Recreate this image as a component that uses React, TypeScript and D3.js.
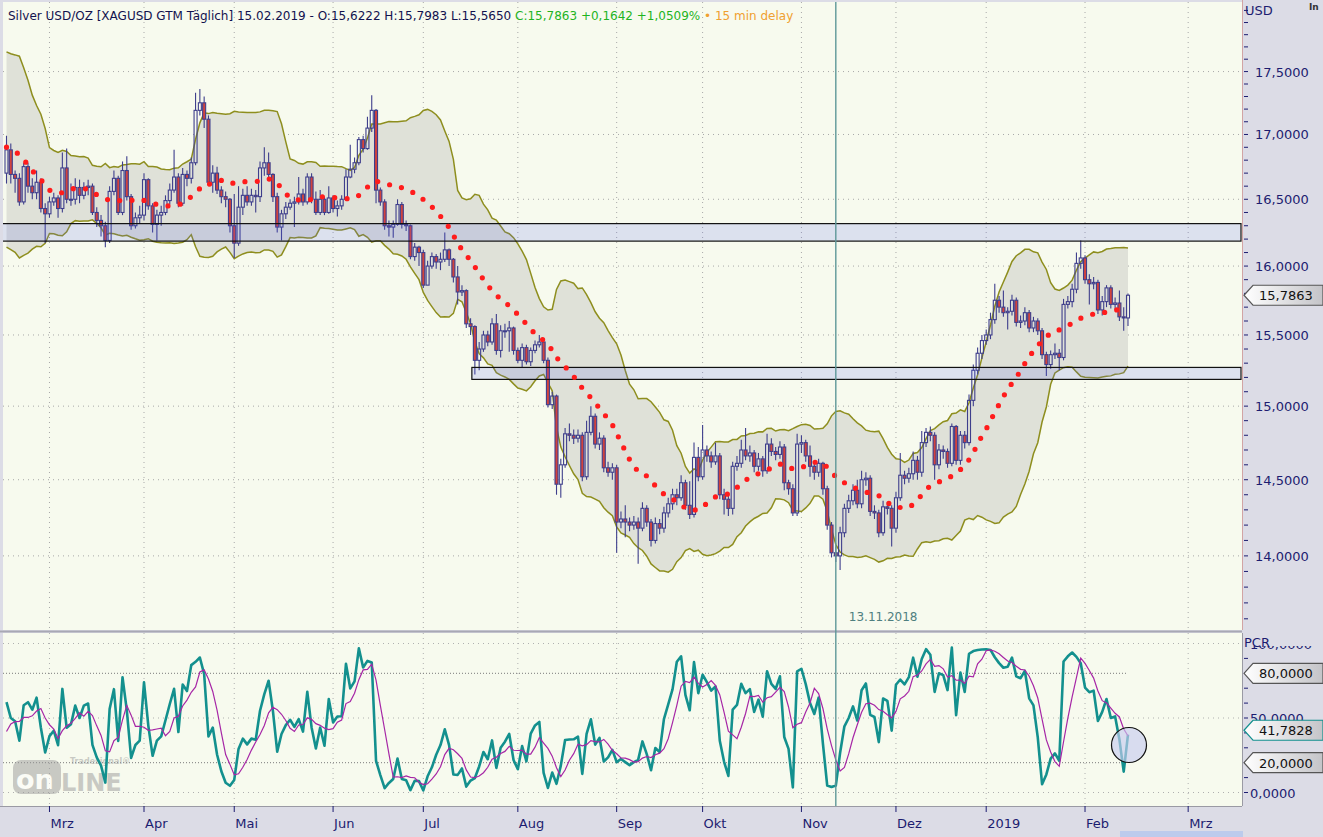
import React from 'react';
import * as d3 from 'd3';

// a few sessions before the visible window, only used to warm up the indicators
const warmClose = [17.05, 17.05, 16.95, 17.0, 17.48, 17.45, 17.45, 17.25, 17.15, 17.25, 17.25, 16.75, 16.7, 16.6, 16.3, 16.2, 16.4, 16.65, 16.55, 16.7];
const warmHigh = [17.15, 17.12, 17.08, 17.1, 17.55, 17.62, 17.55, 17.45, 17.3, 17.35, 17.38, 17.28, 16.9, 16.8, 16.65, 16.4, 16.5, 16.72, 16.7, 16.78];
const warmLow = [16.95, 16.95, 16.88, 16.9, 17.0, 17.35, 17.35, 17.18, 17.05, 17.1, 17.15, 16.7, 16.6, 16.45, 16.25, 16.0, 16.18, 16.4, 16.48, 16.52];

// daily XAGUSD, 15.02.2018 - 15.02.2019 (weekdays)
const closes = [
  16.88, 16.69, 16.66, 16.48, 16.75, 16.6, 16.55, 16.63, 16.43, 16.39,
  16.48, 16.51, 16.43, 16.74, 16.5, 16.5, 16.59, 16.53, 16.59, 16.6,
  16.4, 16.34, 16.3, 16.19, 16.56, 16.66, 16.4, 16.72, 16.52, 16.3,
  16.36, 16.38, 16.65, 16.45, 16.31, 16.38, 16.4, 16.49, 16.57, 16.67,
  16.47, 16.69, 16.66, 16.78, 17.19, 17.25, 17.12, 16.63, 16.7, 16.57,
  16.52, 16.5, 16.3, 16.17, 16.44, 16.53, 16.48, 16.53, 16.52, 16.74,
  16.78, 16.69, 16.52, 16.29, 16.39, 16.44, 16.47, 16.48, 16.54, 16.48,
  16.67, 16.5, 16.4, 16.5, 16.4, 16.51, 16.43, 16.45, 16.5, 16.67,
  16.73, 16.78, 16.96, 16.89, 17.05, 17.19, 16.57, 16.48, 16.3, 16.29,
  16.31, 16.46, 16.31, 16.3, 16.07, 16.14, 16.1, 15.86, 16.0, 16.07,
  16.03, 16.05, 16.12, 16.05, 15.92, 15.81, 15.82, 15.58, 15.56, 15.32,
  15.4, 15.5, 15.45, 15.58, 15.39, 15.53, 15.53, 15.55, 15.39, 15.32,
  15.41, 15.31, 15.39, 15.43, 15.45, 15.32, 15.01, 15.07, 14.47, 14.6,
  14.81, 14.8, 14.78, 14.8, 14.52, 14.82, 14.93, 14.74, 14.78, 14.58,
  14.55, 14.58, 14.22, 14.24, 14.22, 14.2, 14.22, 14.18, 14.31, 14.22,
  14.1, 14.21, 14.18, 14.28, 14.34, 14.4, 14.38, 14.48, 14.33, 14.27,
  14.65, 14.52, 14.7, 14.66, 14.62, 14.66, 14.4, 14.37, 14.31, 14.59,
  14.61, 14.7, 14.66, 14.68, 14.59, 14.64, 14.56, 14.74, 14.69, 14.67,
  14.72, 14.48, 14.44, 14.28, 14.74, 14.75, 14.66, 14.59, 14.55, 14.61,
  14.44, 14.2, 14.02, 14.0, 14.15, 14.31, 14.36, 14.43, 14.34, 14.5,
  14.51, 14.29, 14.28, 14.15, 14.32, 14.31, 14.18, 14.38, 14.53, 14.51,
  14.54, 14.63, 14.55, 14.75, 14.82, 14.8, 14.6, 14.7, 14.69, 14.61,
  14.86, 14.63, 14.8, 14.75, 15.04, 15.25, 15.37, 15.46, 15.5, 15.61,
  15.75, 15.7, 15.66, 15.67, 15.75, 15.59, 15.6, 15.66, 15.55, 15.6,
  15.53, 15.36, 15.29, 15.36, 15.37, 15.34, 15.72, 15.74, 15.83, 16.02,
  16.06, 15.9, 15.87, 15.88, 15.68, 15.74, 15.84, 15.72, 15.73, 15.63,
  15.6222, 15.7863,
];
const highs = [
  16.99, 16.93, 16.72, 16.7, 16.78, 16.78, 16.66, 16.72, 16.66, 16.47,
  16.52, 16.55, 16.53, 16.86, 16.89, 16.62, 16.66, 16.65, 16.63, 16.65,
  16.62, 16.44, 16.38, 16.33, 16.6, 16.72, 16.68, 16.79, 16.83, 16.54,
  16.4, 16.45, 16.7, 16.66, 16.47, 16.42, 16.45, 16.53, 16.62, 16.88,
  16.7, 16.74, 16.72, 16.82, 17.33, 17.36, 17.3, 17.15, 16.76, 16.75,
  16.6, 16.56, 16.51, 16.54, 16.6, 16.58, 16.6, 16.58, 16.57, 16.79,
  16.9, 16.86, 16.7, 16.55, 16.42, 16.48, 16.5, 16.52, 16.67, 16.58,
  16.7, 16.7, 16.56, 16.57, 16.52, 16.6, 16.53, 16.49, 16.53, 16.73,
  16.92, 16.82, 16.98, 16.99, 17.14, 17.31, 17.2, 16.59, 16.5, 16.34,
  16.34, 16.5, 16.48, 16.34, 16.31, 16.17, 16.15, 16.12, 16.04, 16.1,
  16.09, 16.1, 16.25, 16.13, 16.06, 16.0, 15.86, 15.83, 15.62, 15.57,
  15.45, 15.53, 15.53, 15.62, 15.65, 15.57, 15.58, 15.6, 15.56, 15.41,
  15.44, 15.43, 15.41, 15.46, 15.5, 15.47, 15.34, 15.1, 15.08, 14.64,
  14.85, 14.88, 14.84, 14.84, 14.82, 14.9, 15.0, 14.95, 14.82, 14.8,
  14.62, 14.61, 14.6, 14.29, 14.33, 14.25, 14.26, 14.25, 14.35, 14.33,
  14.24, 14.25, 14.24, 14.32, 14.38, 14.44, 14.44, 14.53, 14.5, 14.49,
  14.75, 14.72, 14.87, 14.73, 14.69, 14.75, 14.68, 14.44, 14.4, 14.62,
  14.66, 14.77, 14.85, 14.73, 14.7, 14.68, 14.66, 14.81, 14.78, 14.72,
  14.76, 14.74, 14.5, 14.47, 14.81, 14.8, 14.77, 14.73, 14.62, 14.64,
  14.62, 14.46, 14.22, 14.06, 14.19, 14.34, 14.4, 14.47, 14.5, 14.56,
  14.55, 14.53, 14.33, 14.3, 14.36, 14.35, 14.33, 14.42, 14.68, 14.56,
  14.58, 14.69, 14.66, 14.83, 14.85, 14.86, 14.82, 14.74, 14.73, 14.71,
  14.88, 14.87, 14.83, 14.83, 15.08, 15.29, 15.41, 15.5, 15.54, 15.66,
  15.87, 15.78, 15.82, 15.7, 15.79, 15.77, 15.64, 15.7, 15.68, 15.63,
  15.62, 15.55, 15.38, 15.39, 15.44, 15.4, 15.76, 15.78, 15.87, 16.1,
  16.19, 16.08, 15.94, 15.92, 15.9, 15.78, 15.86, 15.86, 15.77, 15.82,
  15.7, 15.7983,
];
const lows = [
  16.62, 16.62, 16.55, 16.45, 16.46, 16.55, 16.5, 16.5, 16.4, 16.17,
  16.36, 16.45, 16.36, 16.4, 16.47, 16.45, 16.46, 16.47, 16.5, 16.53,
  16.38, 16.29, 16.22, 16.14, 16.17, 16.53, 16.38, 16.38, 16.49, 16.27,
  16.28, 16.32, 16.34, 16.42, 16.25, 16.19, 16.3, 16.38, 16.46, 16.55,
  16.44, 16.45, 16.6, 16.62, 16.76, 17.15, 17.05, 16.6, 16.55, 16.54,
  16.47, 16.44, 16.25, 16.06, 16.15, 16.38, 16.45, 16.45, 16.4, 16.48,
  16.68, 16.65, 16.48, 16.25, 16.19, 16.35, 16.42, 16.29, 16.46, 16.45,
  16.46, 16.47, 16.38, 16.38, 16.38, 16.39, 16.4, 16.37, 16.42, 16.49,
  16.66, 16.7, 16.76, 16.86, 16.88, 17.02, 16.47, 16.45, 16.27, 16.22,
  16.21, 16.3, 16.28, 16.26, 16.05, 16.04, 16.0, 15.84, 15.86, 15.98,
  15.98, 15.97, 16.03, 16.0, 15.88, 15.72, 15.78, 15.55, 15.5, 15.22,
  15.25, 15.38, 15.42, 15.43, 15.36, 15.34, 15.48, 15.38, 15.36, 15.3,
  15.27, 15.29, 15.28, 15.37, 15.41, 15.3, 14.99, 14.98, 14.4, 14.38,
  14.58, 14.76, 14.74, 14.75, 14.49, 14.5, 14.8, 14.71, 14.7, 14.55,
  14.52, 14.5, 14.02, 14.18, 14.12, 14.16, 14.17, 13.95, 14.16, 14.19,
  14.06, 14.08, 14.14, 14.15, 14.25, 14.3, 14.33, 14.36, 14.3, 14.24,
  14.25, 14.49, 14.5, 14.62, 14.58, 14.6, 14.37, 14.27, 14.26, 14.27,
  14.56, 14.58, 14.63, 14.62, 14.55, 14.56, 14.52, 14.54, 14.66, 14.63,
  14.64, 14.43, 14.4, 14.26, 14.26, 14.68, 14.62, 14.52, 14.5, 14.52,
  14.4, 14.17, 13.99, 13.96, 13.91, 14.12, 14.28, 14.33, 14.31, 14.31,
  14.46, 14.26, 14.24, 14.12, 14.13, 14.27, 14.06, 14.15, 14.36, 14.47,
  14.48, 14.5, 14.5, 14.52, 14.72, 14.76, 14.5, 14.57, 14.64, 14.58,
  14.59, 14.6, 14.6, 14.71, 14.73, 15.0, 15.22, 15.33, 15.43, 15.47,
  15.58, 15.66, 15.63, 15.54, 15.64, 15.56, 15.55, 15.57, 15.52, 15.52,
  15.5, 15.33, 15.21, 15.26, 15.33, 15.25, 15.32, 15.69, 15.7, 15.8,
  15.98, 15.87, 15.72, 15.83, 15.65, 15.64, 15.7, 15.69, 15.68, 15.6,
  15.53, 15.565,
];

// change figures as printed in the quote line
const quoteChange = [0.1642, 1.0509];

const priceTicks = [14, 14.5, 15, 15.5, 16, 16.5, 17, 17.5];
const pcrTicks = [0, 10, 20, 30, 40, 50, 60, 70, 80, 90, 100];
const pcrLevels = [20, 80];
const monthNames = ['2019', 'Feb', 'Mrz', 'Apr', 'Mai', 'Jun', 'Jul', 'Aug', 'Sep', 'Okt', 'Nov', 'Dez'];
const zones = [
  { lo: 16.185, hi: 16.316, from: -1 },
  { lo: 15.186, hi: 15.27, from: 108.3 },
];
const markerDate = '13.11.2018';
const lastPcr = 41.7828;

const fmt = (v: number) => v.toFixed(4).replace('.', ',');

// weekday calendar of the bars
const dates: Date[] = [];
for (let d = new Date(2018, 1, 15); dates.length < closes.length; d.setDate(d.getDate() + 1)) {
  if (d.getDay() !== 0 && d.getDay() !== 6) dates.push(new Date(d));
}
const last = closes.length - 1;
const monthTicks: { i: number; label: string }[] = [];
dates.forEach((d, i) => {
  if (i > 0 && d.getMonth() !== dates[i - 1].getMonth()) monthTicks.push({ i, label: monthNames[d.getMonth()] });
});
// right of the last bar the time axis runs in calendar days
monthTicks.push({ i: last + d3.timeDay.count(dates[last], new Date(2019, 2, 1)), label: 'Mrz' });
const markerIdx = dates.findIndex(d => d3.timeFormat('%d.%m.%Y')(d) === markerDate);

// indicators: Bollinger(20, 2) and the 14 day price channel rank with a 5 day average
const off = warmClose.length;
const allClose = [...warmClose, ...closes];
const allHigh = [...warmHigh, ...highs];
const allLow = [...warmLow, ...lows];
const bands = closes.map((_, k) => {
  const win = allClose.slice(k + off - 19, k + off + 1);
  const m = d3.mean(win)!;
  const s = Math.sqrt(d3.mean(win, v => (v - m) ** 2)!);
  return { k, mid: m, up: m + 2 * s, lo: m - 2 * s };
});
const pcrAll = allClose.map((c, i) => {
  if (i < 13) return NaN;
  const hh = d3.max(allHigh.slice(i - 13, i + 1))!;
  const ll = d3.min(allLow.slice(i - 13, i + 1))!;
  return (100 * (c - ll)) / (hh - ll);
});
const pcr = closes.map((_, k) => pcrAll[k + off]);
const pcrAvg = closes.map((_, k) => d3.mean(pcrAll.slice(k + off - 4, k + off + 1))!);

const plotL = 3;
const plotR = 1242;
const mainTop = 2;
const mainBot = 630;
const subTop = 633;
const subBot = 806;

const x = d3.scaleLinear().domain([0, last]).range([6.5, 1128]);
const y = d3.scaleLog().domain([13.53, 18.07]).range([mainBot, mainTop]);
const yp = d3.scaleLinear().domain([0, 100]).range([792.5, 643.5]);

const navy = '#1c1c70';
const font = 'DejaVu Sans, Verdana, sans-serif';

const bandArea = d3.area<typeof bands[0]>().x(d => x(d.k)).y0(d => y(d.lo)).y1(d => y(d.up));
const upLine = d3.line<typeof bands[0]>().x(d => x(d.k)).y(d => y(d.up));
const loLine = d3.line<typeof bands[0]>().x(d => x(d.k)).y(d => y(d.lo));
const midLine = d3.line<typeof bands[0]>().x(d => x(d.k)).y(d => y(d.mid));
const pcrLine = d3.line<number>().x((_, i) => x(i)).y(d => yp(d));

const ArrowBox: React.FC<{ yc: number; text: string; stroke?: string }> = ({ yc, text, stroke = '#555' }) => (
  <g>
    <polygon
      points={`1244,${yc} 1253,${yc - 10} 1323,${yc - 10} 1323,${yc + 10} 1253,${yc + 10}`}
      fill="url(#boxGrad)"
      stroke={stroke}
      strokeWidth={1.2}
    />
    <text x={1259} y={yc + 5} fontSize={13} fill="#111">{text}</text>
  </g>
);

export default function App() {
  const minorTicks = d3.range(136, 181).map(v => v / 10);
  return (
    <svg width={1323} height={837} style={{ position: 'absolute', left: 0, top: 0 }} fontFamily={font}>
      <defs>
        <linearGradient id="boxGrad" x1="0" x2="1" y1="0" y2="0">
          <stop offset="0" stopColor="#ffffff" />
          <stop offset="1" stopColor="#c4c4c8" />
        </linearGradient>
        <clipPath id="mainClip">
          <rect x={plotL} y={mainTop} width={plotR - plotL} height={mainBot - mainTop} />
        </clipPath>
        <clipPath id="subClip">
          <rect x={plotL} y={subTop} width={plotR - plotL} height={subBot - subTop} />
        </clipPath>
        <clipPath id="axisTop">
          <rect x={1243} y={646} width={80} height={160} />
        </clipPath>
      </defs>

      <rect x={0} y={0} width={1323} height={837} fill="#dcdce6" />
      <rect x={plotL} y={mainTop} width={plotR - plotL} height={mainBot - mainTop} fill="#f7faee" />
      <rect x={plotL} y={subTop} width={plotR - plotL} height={subBot - subTop} fill="#f7faee" />
      <line x1={0} x2={plotR} y1={631.5} y2={631.5} stroke="#a8a8b4" strokeWidth={2} />
      <line x1={plotR + 0.5} x2={plotR + 0.5} y1={0} y2={mainBot} stroke="#d2a4a4" />
      <line x1={plotR + 0.5} x2={plotR + 0.5} y1={subTop} y2={subBot} stroke="#9a9aa4" />
      <line x1={0} x2={plotR} y1={subBot + 0.5} y2={subBot + 0.5} stroke="#9a9aa4" />

      {/* main panel */}
      <g clipPath="url(#mainClip)">
        {priceTicks.map(p => (
          <line key={p} x1={plotL} x2={plotR} y1={y(p)} y2={y(p)} stroke="#a8a8a8" strokeDasharray="1 4" />
        ))}
        {monthTicks.map(t => (
          <line key={t.i} x1={x(t.i)} x2={x(t.i)} y1={mainTop} y2={mainBot} stroke="#a8a8a8" strokeDasharray="1 4" />
        ))}
        <path d={bandArea(bands)!} fill="#dfe1d8" />
        <path d={upLine(bands)!} fill="none" stroke="#8e8e1e" strokeWidth={1.5} />
        <path d={loLine(bands)!} fill="none" stroke="#8e8e1e" strokeWidth={1.5} />
        {closes.map((c, k) => {
          const o = k === 0 ? warmClose[warmClose.length - 1] : closes[k - 1];
          const top = y(Math.max(o, c));
          const bot = Math.max(y(Math.min(o, c)), top + 1);
          const cx = x(k);
          return (
            <g key={k} stroke="#3e3e8c" strokeWidth={1.1}>
              <line x1={cx} x2={cx} y1={y(highs[k])} y2={top} />
              <line x1={cx} x2={cx} y1={bot} y2={y(lows[k])} />
              <rect x={cx - 1.5} y={top} width={3} height={bot - top} fill={c >= o ? 'none' : '#d2433d'} />
            </g>
          );
        })}
        {zones.map((z, i) => (
          <rect
            key={i}
            x={x(z.from)}
            y={y(z.hi)}
            width={plotR - 1 - x(z.from)}
            height={y(z.lo) - y(z.hi)}
            fill="rgba(90,100,235,0.17)"
            stroke="#111"
            strokeWidth={1.2}
          />
        ))}
        <path d={midLine(bands)!} fill="none" stroke="#ff1c1c" strokeWidth={5.2} strokeLinecap="round" strokeDasharray="0 12.4" />
      </g>

      <text x={8} y={20} fontSize={12}>
        <tspan fill="#12124e">Silver USD/OZ [XAGUSD GTM Täglich] 15.02.2019 - O:{fmt(closes[last - 1])} H:{fmt(highs[last])} L:{fmt(lows[last])} </tspan>
        <tspan fill="#1fb41f">C:{fmt(closes[last])} +{fmt(quoteChange[0])} +{fmt(quoteChange[1])}% </tspan>
        <tspan fill="#f0a030">• 15 min delay</tspan>
      </text>

      {/* PCR panel */}
      <g clipPath="url(#subClip)">
        {[0, 50, 100].map(v => (
          <line key={v} x1={plotL} x2={plotR} y1={yp(v)} y2={yp(v)} stroke="#b0b0b0" strokeDasharray="1 4" />
        ))}
        {monthTicks.map(t => (
          <line key={t.i} x1={x(t.i)} x2={x(t.i)} y1={subTop} y2={subBot} stroke="#b0b0b0" strokeDasharray="1 4" />
        ))}
        {pcrLevels.map(v => (
          <line key={v} x1={plotL} x2={x(last)} y1={yp(v)} y2={yp(v)} stroke="#7a7a7a" strokeDasharray="1 2" />
        ))}
        <g opacity={0.5}>
          <rect x={13} y={760} width={48} height={34} rx={8} fill="#9a9a9a" />
          <text x={16} y={789} fontSize={27} fontWeight="bold" fill="#ffffff">on</text>
          <text x={61} y={791} fontSize={24} fontWeight="bold" fill="#9a9a9a">LINE</text>
          <text x={70} y={764} fontSize={8} fontWeight="bold" fill="#9a9a9a">Tradesignal®</text>
        </g>
        <path d={pcrLine(pcr)!} fill="none" stroke="#13908e" strokeWidth={2.6} strokeLinejoin="round" />
        <path d={pcrLine(pcrAvg)!} fill="none" stroke="#a626a6" strokeWidth={1.2} />
        <circle cx={x(last) + 1} cy={745} r={17.5} fill="rgba(200,205,240,0.65)" stroke="#111" strokeWidth={1.2} />
      </g>

      {/* marker line */}
      <line x1={x(markerIdx)} x2={x(markerIdx)} y1={mainTop} y2={subBot} stroke="#5e9898" strokeWidth={1.4} />
      <text x={x(markerIdx) + 13} y={621} fontSize={12} fill="#4f7f7f">{markerDate}</text>

      {/* price axis */}
      <text x={1245} y={15} fontSize={13} fill={navy}>USD</text>
      <text x={1309} y={10} fontSize={9} fontWeight="bold" fill="#333">In</text>
      {minorTicks.map(v => (
        <line key={v} x1={1244} x2={1248} y1={y(v)} y2={y(v)} stroke={navy} />
      ))}
      {priceTicks.map(p => (
        <text key={p} x={1255} y={y(p) + 5} fontSize={13} fill={navy}>{fmt(p)}</text>
      ))}
      <ArrowBox yc={y(closes[last])} text={fmt(closes[last])} />

      {/* PCR axis */}
      {pcrTicks.map(v => (
        <line key={v} x1={1244} x2={1248} y1={yp(v)} y2={yp(v)} stroke={navy} />
      ))}
      <g clipPath="url(#axisTop)">
        {[0, 50, 100].map(v => (
          <text key={v} x={1250} y={yp(v) + 5} fontSize={13} fill={navy}>{fmt(v)}</text>
        ))}
      </g>
      <rect x={1244} y={636} width={40} height={10} fill="#dcdce6" />
      <text x={1244} y={647} fontSize={13} fill={navy}>PCR</text>
      {pcrLevels.map(v => (
        <ArrowBox key={v} yc={yp(v)} text={fmt(v)} />
      ))}
      <ArrowBox yc={yp(lastPcr)} text={fmt(lastPcr)} stroke="#13908e" />

      {/* time axis */}
      {monthTicks.map(t => (
        <g key={t.i}>
          <line x1={x(t.i)} x2={x(t.i)} y1={subBot} y2={subBot + 6} stroke={navy} />
          <text x={x(t.i) + 1} y={828} fontSize={13} fill={navy}>{t.label}</text>
        </g>
      ))}
      <rect x={1120} y={831} width={123} height={6} fill="#bccbec" />
    </svg>
  );
}
